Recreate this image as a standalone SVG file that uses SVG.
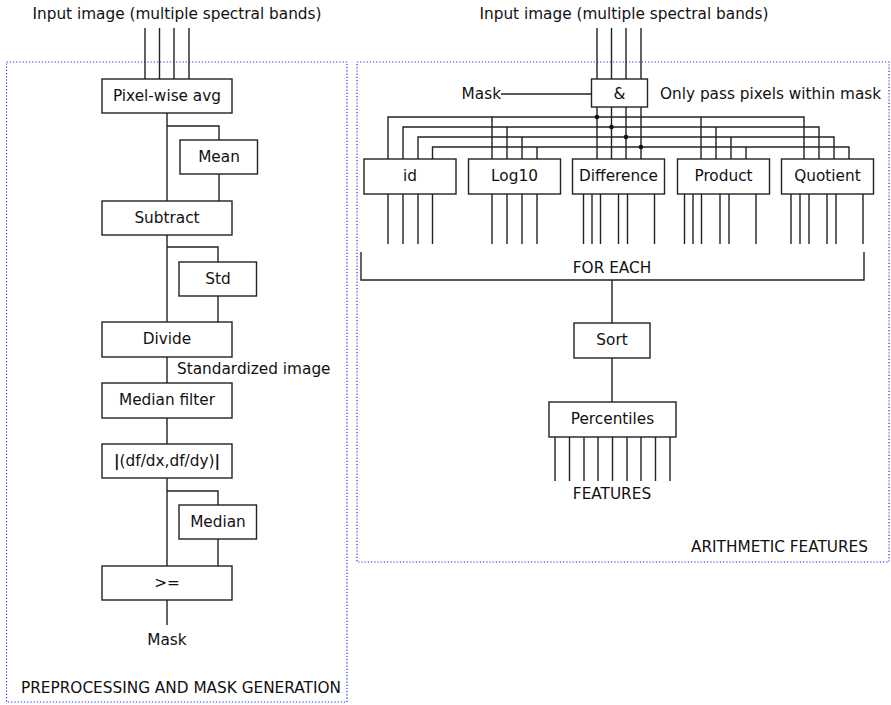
<svg xmlns="http://www.w3.org/2000/svg" width="891" height="705" viewBox="0 0 891 705">
<style>
text{font-family:"DejaVu Sans","Liberation Sans",sans-serif;font-size:15.3px;fill:#111}
.c{text-anchor:middle}
.box{fill:#fff;stroke:#222;stroke-width:1.4}
.ln{stroke:#222;stroke-width:1.4;fill:none}
.frame{fill:none;stroke:#1a2ff0;stroke-width:1.2;stroke-dasharray:1.2 2}
.dot{fill:#111}
</style>
<rect class="frame" x="6.5" y="62" width="340.5" height="640"/>
<rect class="frame" x="357" y="62" width="532" height="500"/>
<text class="c" x="177" y="19">Input image (multiple spectral bands)</text>
<text class="c" x="624" y="19">Input image (multiple spectral bands)</text>
<text x="21" y="693">PREPROCESSING AND MASK GENERATION</text>
<text x="868" y="552" style="text-anchor:end">ARITHMETIC FEATURES</text>
<g id="connectors">
<path class="ln" d="M145 28V79M159.5 28V79M174 28V79M189 28V79"/>
<path class="ln" d="M167 113V201M167 126H219V140M219 174V201"/>
<path class="ln" d="M167 235V322M167 247H218V262M218 296V322"/>
<path class="ln" d="M167 357V383M167 418V444"/>
<path class="ln" d="M167 478V566M167 491H218V505M218 539V566"/>
<path class="ln" d="M167 600V625"/>
<path class="ln" d="M597 28V79M611.5 28V79M626 28V79M641 28V79"/>
<path class="ln" d="M501 94H591"/>
<path class="ln" d="M597 107V159M611.5 107V159M626 107V159M641 107V159"/>
<path class="ln" d="M388 159V117H804V159M492 117V159M701 117V159"/>
<path class="ln" d="M403 159V127H819V159M507 127V159M716 127V159"/>
<path class="ln" d="M418 159V137H834V159M522 137V159M731 137V159"/>
<path class="ln" d="M432.5 159V147H849V159M537 147V159M746 147V159"/>
<circle class="dot" cx="597" cy="117" r="2.3"/>
<circle class="dot" cx="611.5" cy="127" r="2.3"/>
<circle class="dot" cx="626" cy="137" r="2.3"/>
<circle class="dot" cx="641" cy="147" r="2.3"/>
<path class="ln" d="M388 194V244M403 194V244M418 194V244M432.5 194V244"/>
<path class="ln" d="M492 194V244M507 194V244M522 194V244M537 194V244"/>
<path class="ln" d="M583.5 194V244M592 194V244M600.5 194V244M618.5 194V244M627.5 194V244M654.5 194V244"/>
<path class="ln" d="M684.5 194V244M693 194V244M701.5 194V244M720 194V244M729 194V244M756 194V244"/>
<path class="ln" d="M791 194V244M800 194V244M809 194V244M827 194V244M836 194V244M863 194V244"/>
<path class="ln" d="M361 252V280H864V252M612 280V323"/>
<path class="ln" d="M612 358V402"/>
<path class="ln" d="M555 437V481M569.5 437V481M584 437V481M598 437V481M612.5 437V481M627 437V481M641 437V481M655.5 437V481M670 437V481"/>
</g>
<g id="pixelavg"><rect class="box" x="102" y="79" width="130" height="34"/><text class="c" x="167" y="101">Pixel-wise avg</text></g>
<g id="mean"><rect class="box" x="180" y="140" width="77.5" height="34"/><text class="c" x="219" y="162">Mean</text></g>
<g id="subtract"><rect class="box" x="102" y="201" width="130" height="34"/><text class="c" x="167" y="223">Subtract</text></g>
<g id="std"><rect class="box" x="179" y="262" width="77.5" height="34"/><text class="c" x="218" y="284">Std</text></g>
<g id="divide"><rect class="box" x="102" y="322" width="130" height="35"/><text class="c" x="167" y="344">Divide</text></g>
<g id="stdlabel"><text x="177" y="374">Standardized image</text></g>
<g id="medianfilter"><rect class="box" x="102" y="383" width="130" height="35"/><text class="c" x="167" y="405">Median filter</text></g>
<g id="gradient"><rect class="box" x="102" y="444" width="130" height="34"/><text class="c" x="167" y="466"><tspan font-weight="bold">|</tspan>(df/dx,df/dy)<tspan font-weight="bold">|</tspan></text></g>
<g id="median"><rect class="box" x="179" y="505" width="77.5" height="34"/><text class="c" x="218" y="527">Median</text></g>
<g id="geq"><rect class="box" x="102" y="566" width="130" height="34"/><text class="c" x="167" y="588">&gt;=</text></g>
<g id="masklabel"><text class="c" x="167" y="645">Mask</text></g>
<g id="maskin"><text x="501" y="99" style="text-anchor:end">Mask</text></g>
<g id="and"><rect class="box" x="591.5" y="79" width="56" height="28"/><text class="c" x="619.5" y="99">&amp;</text></g>
<g id="andlabel"><text x="660" y="99">Only pass pixels within mask</text></g>
<g id="id"><rect class="box" x="364" y="159" width="92" height="35"/><text class="c" x="410" y="181">id</text></g>
<g id="log10"><rect class="box" x="468.5" y="159" width="92" height="35"/><text class="c" x="514.5" y="181">Log10</text></g>
<g id="difference"><rect class="box" x="572.5" y="159" width="92" height="35"/><text class="c" x="618.5" y="181">Difference</text></g>
<g id="product"><rect class="box" x="677.5" y="159" width="92" height="35"/><text class="c" x="723.5" y="181">Product</text></g>
<g id="quotient"><rect class="box" x="781.5" y="159" width="92" height="35"/><text class="c" x="827.5" y="181">Quotient</text></g>
<g id="foreach"><text class="c" x="612" y="273">FOR EACH</text></g>
<g id="sort"><rect class="box" x="574" y="323" width="76" height="35"/><text class="c" x="612" y="345">Sort</text></g>
<g id="percentiles"><rect class="box" x="549" y="402" width="127" height="35"/><text class="c" x="612.5" y="424">Percentiles</text></g>
<g id="features"><text class="c" x="612" y="499">FEATURES</text></g>
</svg>
